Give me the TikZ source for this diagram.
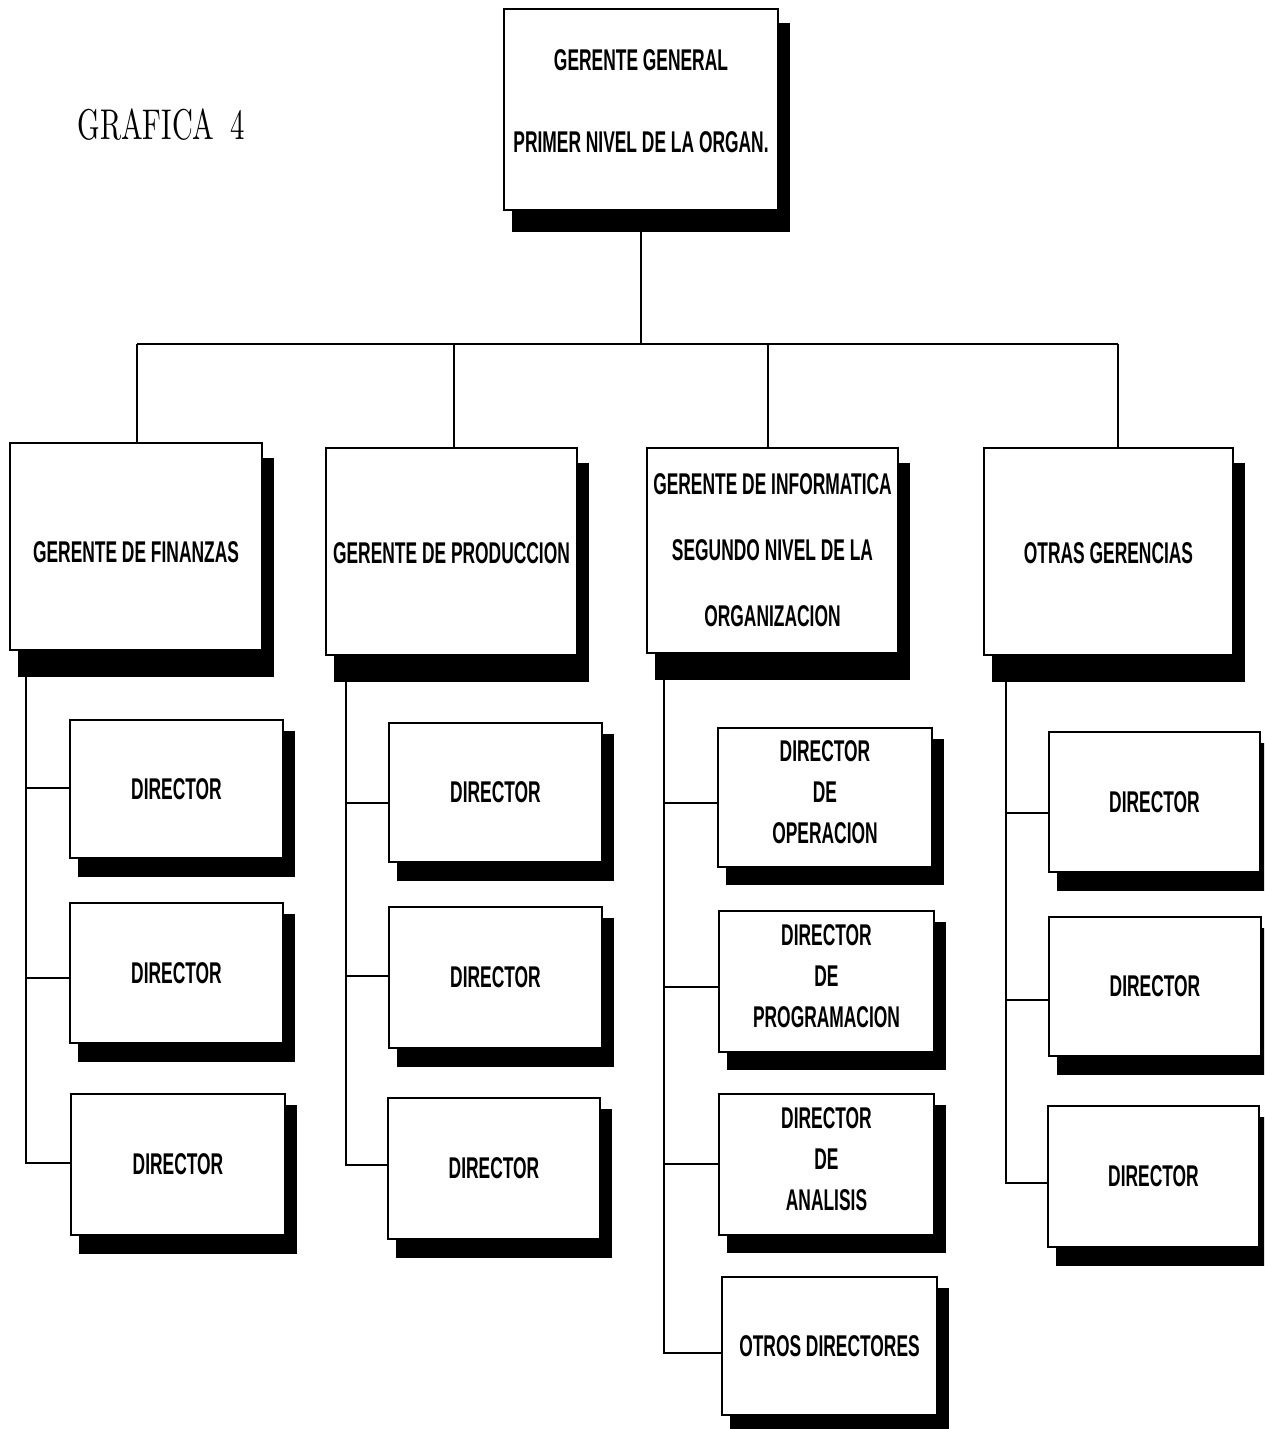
\documentclass[tikz,border=0pt]{standalone}
\usepackage{fontspec}
\usetikzlibrary{calc,backgrounds}
\newfontfamily\cf[FakeStretch=0.58]{Liberation Sans}
\newfontfamily\graf[FakeStretch=0.67]{lmroman10-regular.otf}
\tikzset{
  obx/.style={draw, fill=white, line width=2.6pt, rectangle, inner sep=0pt, align=center,
    font={\cf\bfseries\fontsize{30}{41}\selectfont}},
  conn/.style={line width=2.6pt},
  threeline/.style={text depth=11pt},
}
% name, x1, y1, x2, y2, shadow top offset, shadow bottom offset, options, text
\newcommand\obox[9]{%
  \fill (#2+8,#3+#6) rectangle (#4+12,#5+#7);
  \node[obx, minimum width={(#4-#2)*1pt}, minimum height={(#5-#3)*1pt}, #8] (#1) at ({(#2+#4)/2},{(#3+#5)/2}) {#9};
}
\begin{document}
\begin{tikzpicture}[x=1pt,y=-1pt]
\useasboundingbox (0,0) rectangle (1264,1429);
\clip (0,0) rectangle (1264,1429);

\node[anchor=base west, font={\graf\fontsize{43}{50}\selectfont}] (title) at (74,139) {GRAFICA\hspace{16pt}4};

% top
\obox{top}{504}{9}{778}{210}{14}{22}{font={\cf\bfseries\fontsize{30}{82}\selectfont}, text depth=16pt}{GERENTE GENERAL\\PRIMER NIVEL DE LA ORGAN.}

% level 2
\obox{fin}{10}{443}{262}{650}{15}{27}{text height=33pt}{GERENTE DE FINANZAS}
\obox{prod}{326}{448}{577}{655}{15}{27}{text height=25pt}{GERENTE DE PRODUCCION}
\obox{info}{647}{448}{898}{653}{15}{27}{font={\cf\bfseries\fontsize{30}{66}\selectfont}}{GERENTE DE INFORMATICA\\SEGUNDO NIVEL DE LA\\ORGANIZACION}
\obox{otr}{984}{448}{1233}{655}{15}{27}{text height=25pt}{OTRAS GERENCIAS}

% column 1
\obox{d11}{70}{720}{283}{858}{11}{19}{}{DIRECTOR}
\obox{d12}{70}{903}{283}{1043}{11}{19}{}{DIRECTOR}
\obox{d13}{71}{1094}{285}{1235}{11}{19}{}{DIRECTOR}
% column 2
\obox{d21}{389}{723}{602}{862}{11}{19}{}{DIRECTOR}
\obox{d22}{389}{907}{602}{1048}{11}{19}{}{DIRECTOR}
\obox{d23}{388}{1098}{600}{1239}{11}{19}{}{DIRECTOR}
% column 3
\obox{d31}{718}{728}{932}{867}{11}{18}{threeline}{DIRECTOR\\DE\\OPERACION}
\obox{d32}{719}{911}{934}{1052}{11}{18}{threeline}{DIRECTOR\\DE\\PROGRAMACION}
\obox{d33}{719}{1094}{934}{1235}{11}{18}{threeline}{DIRECTOR\\DE\\ANALISIS}
\obox{d34}{722}{1277}{937}{1415}{11}{18}{}{OTROS DIRECTORES}
% column 4
\obox{d41}{1049}{732}{1260}{872}{11}{19}{}{DIRECTOR}
\obox{d42}{1049}{917}{1261}{1056}{11}{19}{}{DIRECTOR}
\obox{d43}{1048}{1106}{1259}{1247}{11}{19}{}{DIRECTOR}

\begin{pgfonlayer}{background}
  \coordinate (bus1) at (137,344);
  \coordinate (bus2) at (454,344);
  \coordinate (bus3) at (768,344);
  \coordinate (bus4) at (1118,344);
  \draw[conn] (top.south) -- (top.south |- bus1);
  \draw[conn] (bus1) -- (bus4);
  \draw[conn] (bus1) -- (bus1 |- fin.north);
  \draw[conn] (bus2) -- (bus2 |- prod.north);
  \draw[conn] (bus3) -- (bus3 |- info.north);
  \draw[conn] (bus4) -- (bus4 |- otr.north);

  % spines
  \coordinate (s1) at (26,650);
  \coordinate (b11) at (26,788);
  \coordinate (b12) at (26,978);
  \coordinate (b13) at (26,1163);
  \draw[conn] (s1) -- (b13) -- (b13 -| d13.west);
  \draw[conn] (b11) -- (b11 -| d11.west);
  \draw[conn] (b12) -- (b12 -| d12.west);

  \coordinate (s2) at (346,655);
  \coordinate (b21) at (346,803);
  \coordinate (b22) at (346,976);
  \coordinate (b23) at (346,1165);
  \draw[conn] (s2) -- (b23) -- (b23 -| d23.west);
  \draw[conn] (b21) -- (b21 -| d21.west);
  \draw[conn] (b22) -- (b22 -| d22.west);

  \coordinate (s3) at (664,653);
  \coordinate (b31) at (664,803);
  \coordinate (b32) at (664,987);
  \coordinate (b33) at (664,1164);
  \coordinate (b34) at (664,1353);
  \draw[conn] (s3) -- (b34) -- (b34 -| d34.west);
  \draw[conn] (b31) -- (b31 -| d31.west);
  \draw[conn] (b32) -- (b32 -| d32.west);
  \draw[conn] (b33) -- (b33 -| d33.west);

  \coordinate (s4) at (1006,655);
  \coordinate (b41) at (1006,813);
  \coordinate (b42) at (1006,1000);
  \coordinate (b43) at (1006,1183);
  \draw[conn] (s4) -- (b43) -- (b43 -| d43.west);
  \draw[conn] (b41) -- (b41 -| d41.west);
  \draw[conn] (b42) -- (b42 -| d42.west);
\end{pgfonlayer}
\end{tikzpicture}
\end{document}
